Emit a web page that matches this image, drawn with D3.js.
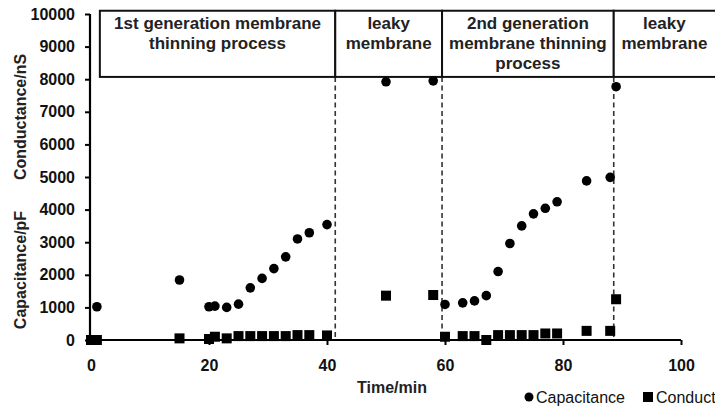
<!DOCTYPE html>
<html>
<head>
<meta charset="utf-8">
<script src="https://cdn.jsdelivr.net/npm/d3@7"></script>
<style>
  html, body { margin: 0; padding: 0; background: #fff; overflow: hidden; }
  svg { display: block; font-family: "Liberation Sans", Arial, sans-serif; }
</style>
</head>
<body>
<svg id="chart" width="715" height="412"></svg>
<script>
// Membrane capacitance (pF) and conductance (nS) over time (min)
const capTime  = [1, 15, 20, 21, 23, 25, 27, 29, 31, 33, 35, 37, 40, 50, 58,
                  60, 63, 65, 67, 69, 71, 73, 75, 77, 79, 84, 88, 89];
const capValue = [1020, 1840, 1020, 1040, 1000, 1100, 1600, 1890, 2190, 2550, 3100, 3290, 3540, 7920, 7950,
                  1090, 1140, 1200, 1360, 2100, 2960, 3500, 3870, 4040, 4240, 4880, 4990, 7770];

const condTime  = [0, 1, 15, 20, 21, 23, 25, 27, 29, 31, 33, 35, 37, 40, 50, 58,
                   60, 63, 65, 67, 69, 71, 73, 75, 77, 79, 84, 88, 89];
const condValue = [0, 0, 50, 30, 100, 50, 120, 120, 120, 120, 120, 150, 150, 140, 1360, 1380,
                   100, 120, 120, 0, 150, 150, 150, 150, 200, 200, 280, 280, 1250];

const xTicks = [0, 20, 40, 60, 80, 100];
const yTicks = [0, 1000, 2000, 3000, 4000, 5000, 6000, 7000, 8000, 9000, 10000];

// Phase banner: boundaries in minutes, and the label lines of each phase
const phaseEdges = [1.5, 41.4, 59.5, 88.6, 112];
const phaseLabels = [
  ["1st generation membrane", "thinning process"],
  ["leaky", "membrane"],
  ["2nd generation", "membrane thinning", "process"],
  ["leaky", "membrane"]
];
const bannerTop = 10100, bannerBottom = 8070;

const seriesNames = ["Capacitance", "Conductance"];

const svg = d3.select("#chart");
const x = d3.scaleLinear().domain([0, 100]).range([91, 681]);
const y = d3.scaleLinear().domain([0, 10000]).range([340, 14]);

// Axes
const xAxis = svg.append("g")
  .attr("transform", `translate(0,${y(0)})`)
  .call(d3.axisBottom(x).tickValues(xTicks).tickFormat(d3.format("d")).tickSize(5).tickPadding(15));
const yAxis = svg.append("g")
  .attr("transform", `translate(${x(0) - 1},0)`)
  .call(d3.axisLeft(y).tickValues(yTicks).tickFormat(d3.format("d")).tickSize(5).tickPadding(10));

[xAxis, yAxis].forEach(g => {
  g.select(".domain").attr("stroke", "#000").attr("stroke-width", 2.2);
  g.selectAll(".tick line").attr("stroke", "#000").attr("stroke-width", 2);
  g.selectAll(".tick text")
    .attr("fill", "#111")
    .style("font-size", "16px")
    .style("font-weight", "bold")
    .style("font-family", "'Liberation Sans', Arial, sans-serif");
});
xAxis.select(".domain").attr("d", `M${x(0) - 1},0H${x(100)}`);
yAxis.select(".domain").attr("d", `M0,${y(10000)}V${y(0)}`);

// Phase boundaries: dashed lines from the banner down to the time axis
svg.append("g").selectAll("line")
  .data(phaseEdges.slice(1, 4))
  .join("line")
  .attr("x1", d => x(d)).attr("x2", d => x(d))
  .attr("y1", y(bannerBottom)).attr("y2", y(0))
  .attr("stroke", "#333")
  .attr("stroke-width", 1.6)
  .attr("stroke-dasharray", "5,3.5");

// Banner cells
const banner = svg.append("g");
banner.selectAll("rect")
  .data(phaseLabels)
  .join("rect")
  .attr("x", (d, i) => x(phaseEdges[i]))
  .attr("y", y(bannerTop))
  .attr("width", (d, i) => x(phaseEdges[i + 1]) - x(phaseEdges[i]))
  .attr("height", y(bannerBottom) - y(bannerTop))
  .attr("fill", "#fff")
  .attr("stroke", "#111")
  .attr("stroke-width", 2);

banner.selectAll("text")
  .data(phaseLabels)
  .join("text")
  .attr("text-anchor", "middle")
  .attr("fill", "#222")
  .style("font-size", "17px")
  .style("font-weight", "bold")
  .each(function(lines, i) {
    const right = Math.min(x(phaseEdges[i + 1]), 715);
    const cx = (x(phaseEdges[i]) + right) / 2;
    d3.select(this).selectAll("tspan")
      .data(lines)
      .join("tspan")
      .attr("x", cx)
      .attr("y", (d, j) => 29 + j * 20)
      .text(d => d);
  });

// Conductance markers (squares)
const sq = 10;
svg.append("g").selectAll("rect")
  .data(condTime.map((t, i) => [t, condValue[i]]))
  .join("rect")
  .attr("x", d => x(d[0]) - sq / 2)
  .attr("y", d => y(d[1]) - sq / 2)
  .attr("width", sq).attr("height", sq)
  .attr("fill", "#000");

// Capacitance markers (circles)
svg.append("g").selectAll("circle")
  .data(capTime.map((t, i) => [t, capValue[i]]))
  .join("circle")
  .attr("cx", d => x(d[0]))
  .attr("cy", d => y(d[1]))
  .attr("r", 4.8)
  .attr("fill", "#000");

// Axis titles
svg.append("text")
  .attr("x", 392).attr("y", 393)
  .attr("text-anchor", "middle")
  .attr("fill", "#222")
  .style("font-size", "16px").style("font-weight", "bold")
  .text("Time/min");

svg.append("text")
  .attr("transform", "translate(26,270) rotate(-90)")
  .attr("text-anchor", "middle")
  .attr("fill", "#222")
  .style("font-size", "16px").style("font-weight", "bold")
  .text("Capacitance/pF");
svg.append("text")
  .attr("transform", "translate(26,117) rotate(-90)")
  .attr("text-anchor", "middle")
  .attr("fill", "#222")
  .style("font-size", "16px").style("font-weight", "bold")
  .text("Conductance/nS");

// Legend (runs past the right edge of the figure)
const legend = svg.append("g").attr("transform", "translate(529,397)");
legend.append("circle").attr("cx", 0).attr("cy", 0).attr("r", 4.5).attr("fill", "#000");
legend.append("text").attr("x", 7).attr("y", 6)
  .attr("fill", "#111").style("font-size", "16px")
  .text(seriesNames[0]);
legend.append("rect").attr("x", 114).attr("y", -5).attr("width", 10).attr("height", 10).attr("fill", "#000");
legend.append("text").attr("x", 127).attr("y", 6)
  .attr("fill", "#111").style("font-size", "16px")
  .text(seriesNames[1]);
</script>
</body>
</html>
